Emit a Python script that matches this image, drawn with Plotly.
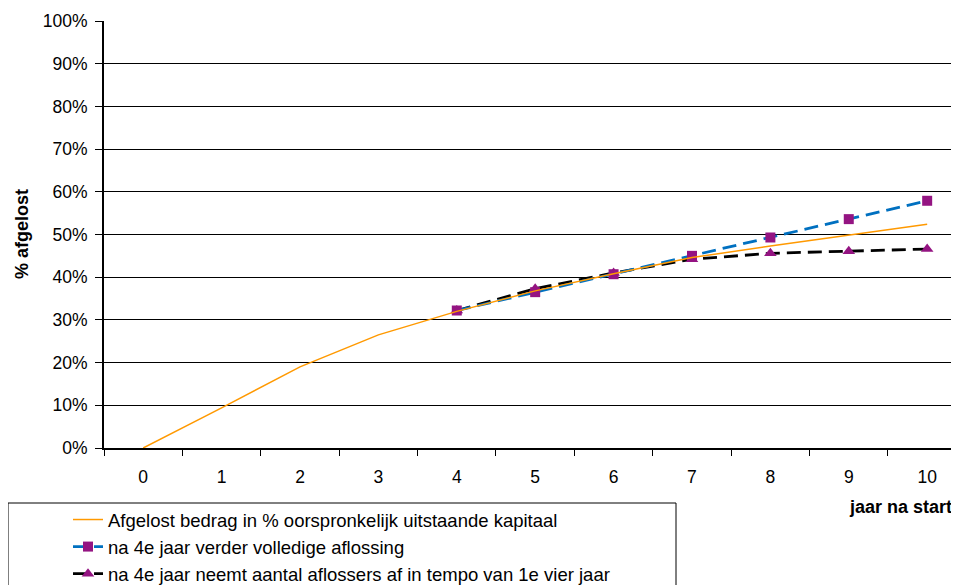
import plotly.graph_objects as go

# ---- data ----
years = ["0", "1", "2", "3", "4", "5", "6", "7", "8", "9", "10"]
afgelost = [0.0, 0.094, 0.190, 0.265, 0.320, 0.368, 0.408, 0.446, 0.473, 0.499, 0.524]
years_scen = ["4", "5", "6", "7", "8", "9", "10"]
volledig = [0.322, 0.365, 0.407, 0.450, 0.493, 0.536, 0.579]
afname = [0.322, 0.373, 0.410, 0.442, 0.456, 0.461, 0.466]
y_ticks = [0, 0.1, 0.2, 0.3, 0.4, 0.5, 0.6, 0.7, 0.8, 0.9, 1.0]

name_orange = "Afgelost bedrag in % oorspronkelijk uitstaande kapitaal"
name_blue = "na 4e jaar verder volledige aflossing"
name_black = "na 4e jaar neemt aantal aflossers af in tempo van 1e vier jaar"

purple = "#941482"
FONT = "Liberation Sans, Arial, sans-serif"

fig = go.Figure()
fig.add_trace(go.Scatter(
    x=years_scen, y=afname, name=name_black, mode="lines+markers",
    line=dict(color="black", width=2.8, dash="14px,7px"),
    marker=dict(symbol="triangle-up", size=11, color=purple),
    legendgroup="c", legendrank=3))
fig.add_trace(go.Scatter(
    x=years_scen, y=volledig, name=name_blue, mode="lines+markers",
    line=dict(color="#0070C0", width=2.8, dash="14px,7px"),
    marker=dict(symbol="square", size=10, color=purple),
    legendgroup="b", legendrank=2))
fig.add_trace(go.Scatter(
    x=years, y=afgelost, name=name_orange, mode="lines",
    line=dict(color="#FF9900", width=1.5),
    legendgroup="a", legendrank=1))

# page body has an 8px margin: figure coordinates = window coordinates - 8
OFF = 8
W, H = 959 - OFF, 585 - OFF
L, T = 104 - OFF, 21 - OFF
R = 0
B = H - (448 - OFF)
pw, ph = W - L - R, H - T - B

def px2x(px):  # window pixel -> paper x
    return (px - OFF - L) / pw

def px2y(py):  # window pixel -> paper y
    return (H - B - (py - OFF)) / ph

fig.update_layout(
    width=W, height=H,
    margin=dict(l=L, r=R, t=T, b=B, autoexpand=False),
    paper_bgcolor="white", plot_bgcolor="white",
    font=dict(family=FONT, size=17, color="black"),
    showlegend=True,
    legend=dict(
        xref="container", yref="container",
        x=(68 - OFF) / W, y=1 - (501 - OFF) / H, xanchor="left", yanchor="top",
        bgcolor="rgba(0,0,0,0)", borderwidth=0,
        traceorder="grouped", tracegroupgap=0,
        font=dict(family=FONT, size=18.5, color="black"),
    ),
    xaxis=dict(
        type="category", categoryorder="array", categoryarray=years,
        range=[-0.5, 10.406], showgrid=False, zeroline=False, automargin=False,
        showline=True, linecolor="black", linewidth=1.5,
        ticks="outside", tickson="boundaries", ticklen=6, tickcolor="black",
        tickfont=dict(family=FONT, size=17.5), ticklabelstandoff=12,
    ),
    yaxis=dict(
        range=[0, 1], tickvals=y_ticks, tickformat=".0%", automargin=False,
        showgrid=True, gridcolor="black", gridwidth=1, zeroline=False,
        showline=True, linecolor="black", linewidth=2,
        ticks="outside", ticklen=7, tickcolor="black",
        tickfont=dict(family=FONT, size=17.5), ticklabelstandoff=4,
    ),
    shapes=[dict(
        type="rect", xref="paper", yref="paper",
        x0=px2x(8), x1=px2x(676), y0=px2y(600), y1=px2y(503),
        line=dict(color="black", width=1), fillcolor="rgba(0,0,0,0)",
        layer="below")],
    annotations=[
        dict(text="<b>% afgelost</b>", xref="paper", yref="paper",
             x=px2x(22), y=px2y(234), textangle=-90, showarrow=False,
             font=dict(family=FONT, size=18), xanchor="center", yanchor="middle"),
        dict(text="<b>jaar na start</b>", xref="paper", yref="paper",
             x=px2x(954), y=px2y(507), showarrow=False,
             font=dict(family=FONT, size=18), xanchor="right", yanchor="middle"),
    ],
)

fig.write_html("out.html")
